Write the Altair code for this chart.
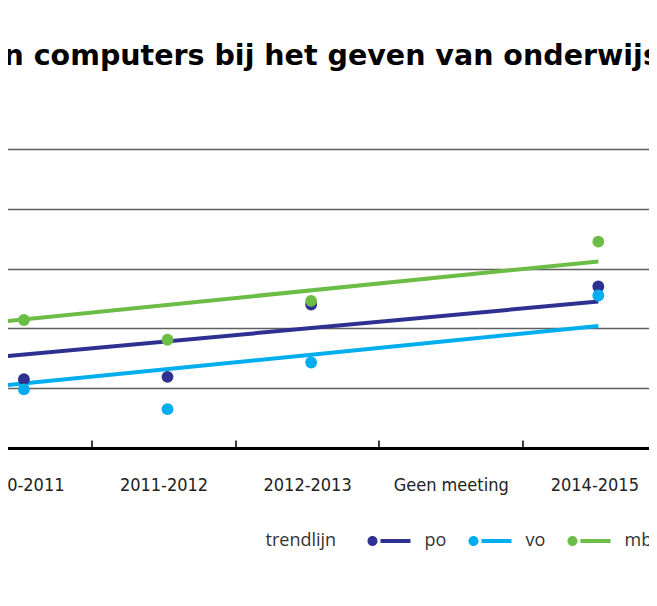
import altair as alt
import pandas as pd

# categories on the x axis (first one lies outside the visible crop)
categories = ["2009-2010", "2010-2011", "2011-2012", "2012-2013", "Geen meeting", "2014-2015"]
series = ["po", "vo", "mbo"]
colors = ["#2e3192", "#00aeef", "#6cbd45"]

# measured values
meet_jaren = ["2010-2011", "2011-2012", "2012-2013", "2014-2015"]
po = [11.5, 11.9, 24.0, 27.0]
vo = [9.8, 6.5, 14.3, 25.5]
mbo = [21.4, 18.1, 24.6, 34.5]

# trend lines (start / end values)
trend_jaren = ["2009-2010", "2014-2015"]
po_trend = [13.4, 24.5]
vo_trend = [8.4, 20.4]
mbo_trend = [19.1, 31.2]

title_text = "n computers bij het geven van onderwijs"

rows = []
for s, vals in zip(series, [po, vo, mbo]):
    for j, v in zip(meet_jaren, vals):
        rows.append({"jaar": j, "serie": s, "waarde": v})
points_df = pd.DataFrame(rows)

trows = []
for s, vals in zip(series, [po_trend, vo_trend, mbo_trend]):
    for j, v in zip(trend_jaren, vals):
        trows.append({"jaar": j, "serie": s, "waarde": v})
trend_df = pd.DataFrame(trows)

SYMBOL = ("M -1 0 A 1 1 0 1 0 1 0 A 1 1 0 1 0 -1 0 Z "
          "M 1.6 -0.4 L 7.6 -0.4 L 7.6 0.4 L 1.6 0.4 Z")

legend = alt.Legend(
    title="trendlijn", orient="none", legendX=461, legendY=383,
    direction="horizontal", titleOrient="left",
    titleFont="Open Sans", titleFontSize=18, titleFontWeight="normal", titleColor="#333",
    labelFont="Open Sans", labelFontSize=18, labelColor="#333",
    symbolType=SYMBOL, symbolSize=100, symbolStrokeWidth=0,
    labelOffset=43, columnPadding=18, titlePadding=27,
)

x_scale = alt.Scale(type="band", domain=categories, paddingInner=0, paddingOuter=0)
x_axis = alt.Axis(
    title=None, labelAngle=0, labelFont="DejaVu Sans Condensed", labelFontSize=18,
    labelColor="#222", domainColor="black", domainWidth=3,
    tickBand="extent", tickSize={"expr": "-8"}, tickColor="black", tickWidth=1.5,
    labelPadding=36, grid=False,
)
y_scale = alt.Scale(domain=[0, 50], nice=False)
y_axis = alt.Axis(values=[10, 20, 30, 40, 50], labels=False, ticks=False, domain=False,
                  grid=True, gridColor="#5f5f5f", gridWidth=1.5, title=None)
color = alt.Color("serie:N", scale=alt.Scale(domain=series, range=colors),
                  sort=series, legend=legend)

lines = alt.Chart(trend_df).mark_line(strokeWidth=4).encode(
    x=alt.X("jaar:N", scale=x_scale, axis=x_axis, bandPosition=0.528),
    y=alt.Y("waarde:Q", scale=y_scale, axis=y_axis),
    color=color,
    detail="serie:N",
)

pts = alt.Chart(points_df).mark_circle(size=140, opacity=1).encode(
    x=alt.X("jaar:N", scale=x_scale, axis=x_axis, bandPosition=0.528),
    y=alt.Y("waarde:Q", scale=y_scale, axis=y_axis),
    color=color,
)

chart = alt.layer(lines, pts).properties(
    width=861.6, height=299,
    autosize="none",
    padding={"left": -203.5, "top": 141, "right": -17.1, "bottom": 150},
    title=alt.TitleParams(
        title_text, anchor="start", frame="group", dx=199, offset=56,
        baseline="alphabetic", font="DejaVu Sans", fontWeight="bold",
        fontSize=28.5, color="black",
    ),
).configure_view(stroke=None).configure(background="white")

chart.save("out.html", embed_options={"renderer": "svg", "actions": False})
